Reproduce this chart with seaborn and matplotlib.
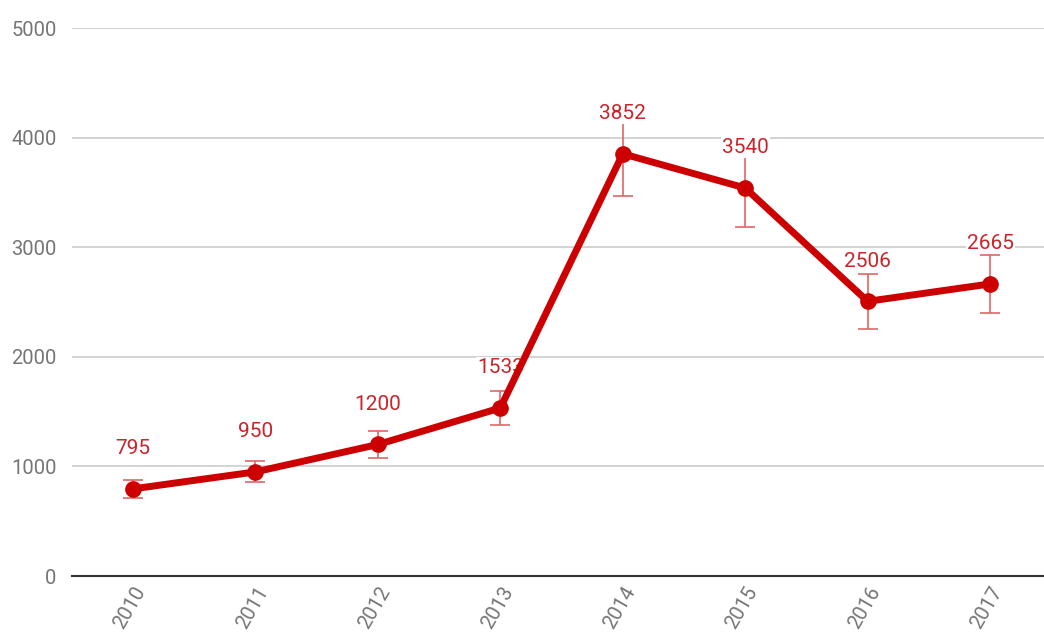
import pandas as pd
import matplotlib.pyplot as plt
import seaborn as sns

# --- DATA ---
years = ["2010", "2011", "2012", "2013", "2014", "2015", "2016", "2017"]
values = [795, 950, 1200, 1533, 3852, 3540, 2506, 2665]
errors = [80, 95, 120, 153, 385, 354, 251, 267]

LINE_RED = "#cc0000"
LABEL_RED = "#c9252b"
ERR_RED = "#e06666"
TICK_GREY = "#757575"

df = pd.DataFrame({"Year": years, "Value": values, "Err": errors})

sns.set_theme(style="whitegrid")
plt.rcParams["font.family"] = ["Roboto", "DejaVu Sans"]

fig = plt.figure(figsize=(10.44, 6.38), dpi=100)
ax = fig.add_axes([72 / 1044, 62 / 638, 972 / 1044, 548 / 638])

pos = list(range(len(years)))

# error bars sit under the labels and the main line
ax.errorbar(pos, df["Value"], yerr=df["Err"], fmt="none",
            ecolor=ERR_RED, elinewidth=1.2, capsize=7, capthick=1.2, zorder=2)

sns.lineplot(ax=ax, x=pos, y=df["Value"], color=LINE_RED, linewidth=5,
             marker="o", markersize=12, markeredgewidth=0, zorder=3)

for x, v in zip(pos, values):
    ax.annotate(str(v), (x, v), xytext=(0, 29), textcoords="offset points",
                ha="center", va="center", color=LABEL_RED, fontsize=15, zorder=2.5,
                bbox=dict(boxstyle="square,pad=0.05", fc="white", ec="none"))

ax.set_xlim(-0.498, 7.44)
ax.set_ylim(0, 5000)
ax.set_yticks([0, 1000, 2000, 3000, 4000, 5000])
ax.set_xticks(pos)
ax.set_xticklabels(years, rotation=60, ha="right", rotation_mode="anchor")
ax.tick_params(axis="both", colors=TICK_GREY, labelsize=14.5, length=0)
ax.tick_params(axis="y", pad=11)
ax.tick_params(axis="x", pad=5)

ax.set_xlabel("")
ax.set_ylabel("")
ax.grid(axis="x", visible=False)
ax.grid(axis="y", color="#cccccc", linewidth=1.2)
ax.set_facecolor("white")
for side in ["left", "right", "top"]:
    ax.spines[side].set_visible(False)
ax.spines["bottom"].set_color("#333333")
ax.spines["bottom"].set_linewidth(1.5)

plt.savefig("out.png", dpi=100)
